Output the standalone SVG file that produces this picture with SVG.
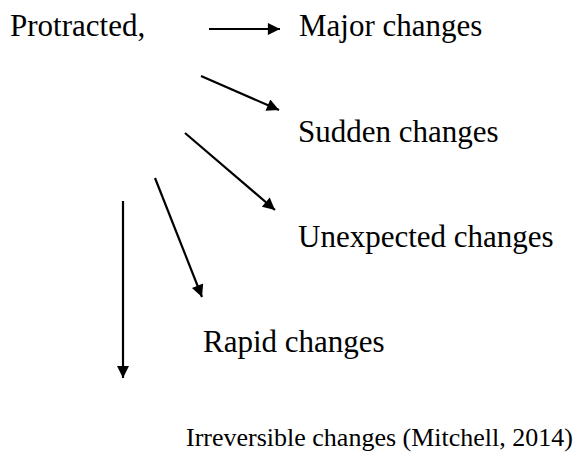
<svg xmlns="http://www.w3.org/2000/svg" width="585" height="463" viewBox="0 0 585 463">
  <style>
    text { font-family: "Liberation Serif", "Times New Roman", serif; font-size: 31px; fill: #000; }
    .conn line { stroke: #000; stroke-width: 2.2; }
  </style>
  <defs>
    <marker id="head" viewBox="0 0 10 10" refX="10" refY="5" markerWidth="7" markerHeight="5.5" markerUnits="strokeWidth" orient="auto">
      <path d="M0,0 L10,5 L0,10 Z" fill="#000"/>
    </marker>
  </defs>
  <rect width="585" height="463" fill="#fff"/>

  <g id="protracted"><text x="10" y="36">Protracted,</text></g>
  <g id="major"><text x="299" y="36">Major changes</text></g>
  <g id="sudden"><text x="298" y="142">Sudden changes</text></g>
  <g id="unexpected"><text x="298" y="247">Unexpected changes</text></g>
  <g id="rapid"><text x="203" y="352">Rapid changes</text></g>
  <g id="irreversible"><text x="186" y="446" style="font-size:26px">Irreversible changes (Mitchell, 2014)</text></g>

  <g class="conn">
    <line x1="209" y1="29" x2="280" y2="29" marker-end="url(#head)"/>
    <line x1="201" y1="76" x2="279" y2="110" marker-end="url(#head)"/>
    <line x1="185" y1="133" x2="275" y2="210" marker-end="url(#head)"/>
    <line x1="155" y1="178" x2="202" y2="297" marker-end="url(#head)"/>
    <line x1="123" y1="201" x2="123" y2="378" marker-end="url(#head)"/>
  </g>
</svg>
